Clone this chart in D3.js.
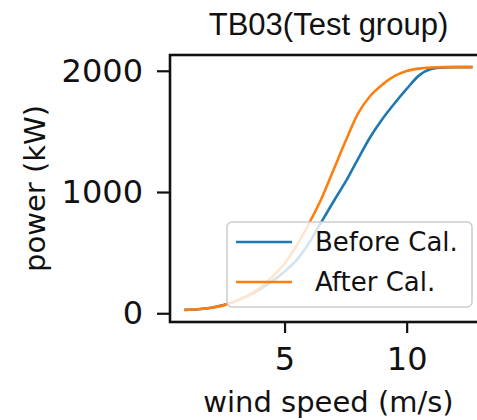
<!DOCTYPE html>
<html>
<head>
<meta charset="utf-8">
<script src="https://cdn.jsdelivr.net/npm/d3@7"></script>
<style>
  body { margin: 0; background: #fff; }
  svg { display: block; }
</style>
</head>
<body>
<div id="chart"></div>
<script>
// wind speed samples (m/s)
const windSpeed = [0.9, 1.5, 2, 2.5, 3, 3.5, 4, 4.5, 5, 5.5, 6, 6.5, 7, 7.5, 8, 8.5, 9, 9.5, 10, 10.5, 11, 11.5, 12, 12.7];
// power (kW) before calibration
const powerBefore = [28, 33, 45, 68, 100, 145, 200, 265, 345, 440, 580, 750, 920, 1085, 1270, 1450, 1600, 1730, 1850, 1960, 2015, 2028, 2030, 2030];
// power (kW) after calibration
const powerAfter = [28, 35, 45, 65, 100, 145, 210, 300, 410, 560, 740, 940, 1180, 1420, 1645, 1790, 1885, 1955, 1998, 2018, 2027, 2030, 2030, 2030];
const seriesNames = ["Before Cal.", "After Cal."];
const xTicks = [5, 10];
const yTicks = [0, 1000, 2000];

const width = 477, height = 420;
const plot = { left: 170, top: 55, right: 487, bottom: 322 };

const svg = d3.select("#chart").append("svg")
    .attr("width", width)
    .attr("height", height);

// matplotlib-style 5% margins
const xExt = d3.extent(windSpeed);
const yExt = [d3.min(powerBefore.concat(powerAfter)), d3.max(powerBefore.concat(powerAfter))];
const xPad = (xExt[1] - xExt[0]) * 0.05;
const yPad = (yExt[1] - yExt[0]) * 0.05;

const xScale = d3.scaleLinear()
    .domain([xExt[0] - xPad, xExt[1] + xPad])
    .range([plot.left, plot.right]);

const yScale = d3.scaleLinear()
    .domain([yExt[0] - yPad, yExt[1] + yPad])
    .range([plot.bottom, plot.top]);

const color = { "Before Cal.": "#1f77b4", "After Cal.": "#ff7f0e" };
const series = [
    { key: seriesNames[0], values: windSpeed.map((w, i) => ({ w: w, p: powerBefore[i] })) },
    { key: seriesNames[1], values: windSpeed.map((w, i) => ({ w: w, p: powerAfter[i] })) }
];

const line = d3.line()
    .x(d => xScale(d.w))
    .y(d => yScale(d.p))
    .curve(d3.curveMonotoneX);

svg.append("g")
    .selectAll("path")
    .data(series)
    .enter()
    .append("path")
    .attr("d", d => line(d.values))
    .style("fill", "none")
    .style("stroke", d => color[d.key])
    .style("stroke-width", 2.6)
    .style("stroke-linejoin", "round");

// axes
const xAxis = svg.append("g")
    .attr("transform", `translate(0,${plot.bottom})`)
    .call(d3.axisBottom(xScale).tickValues(xTicks).tickFormat(d3.format("d")).tickSize(11).tickPadding(14));

const yAxis = svg.append("g")
    .attr("transform", `translate(${plot.left},0)`)
    .call(d3.axisLeft(yScale).tickValues(yTicks).tickFormat(d3.format("d")).tickSize(13).tickPadding(14));

[xAxis, yAxis].forEach(ax => {
    ax.select(".domain").remove();
    ax.selectAll("line").attr("stroke", "#111").attr("stroke-width", 2.2);
    ax.selectAll("text")
        .attr("fill", "#111")
        .style("font-family", "DejaVu Sans")
        .style("font-size", "32px");
});

// frame
svg.append("rect")
    .attr("x", plot.left)
    .attr("y", plot.top)
    .attr("width", plot.right - plot.left)
    .attr("height", plot.bottom - plot.top)
    .style("fill", "none")
    .style("stroke", "#111")
    .style("stroke-width", 2.6);

// title
svg.append("text")
    .attr("x", (plot.left + plot.right) / 2)
    .attr("y", 35)
    .style("text-anchor", "middle")
    .style("font-family", "Liberation Sans")
    .style("font-size", "31px")
    .style("fill", "#111")
    .text("TB03(Test group)");

// axis labels
svg.append("text")
    .attr("x", (plot.left + plot.right) / 2)
    .attr("y", 412)
    .style("text-anchor", "middle")
    .style("font-family", "DejaVu Sans")
    .style("font-size", "29px")
    .style("fill", "#111")
    .text("wind speed (m/s)");

svg.append("text")
    .attr("transform", `translate(45,${(plot.top + plot.bottom) / 2}) rotate(-90)`)
    .style("text-anchor", "middle")
    .style("font-family", "DejaVu Sans")
    .style("font-size", "29px")
    .style("fill", "#111")
    .text("power (kW)");

// legend
const legend = svg.append("g").attr("transform", "translate(227,222)");
legend.append("rect")
    .attr("width", 245)
    .attr("height", 85)
    .attr("rx", 5)
    .style("fill", "#fff")
    .style("fill-opacity", 0.8)
    .style("stroke", "#cccccc")
    .style("stroke-width", 1.5);

const items = legend.selectAll(".legend-item")
    .data(seriesNames)
    .enter()
    .append("g")
    .attr("class", "legend-item")
    .attr("transform", (d, i) => `translate(0,${20 + i * 40})`);

items.append("line")
    .attr("x1", 9)
    .attr("x2", 65)
    .style("stroke", d => color[d])
    .style("stroke-width", 2.6);

items.append("text")
    .attr("x", 88)
    .attr("y", 9)
    .style("font-family", "DejaVu Sans")
    .style("font-size", "26px")
    .style("fill", "#111")
    .text(d => d);
</script>
</body>
</html>
